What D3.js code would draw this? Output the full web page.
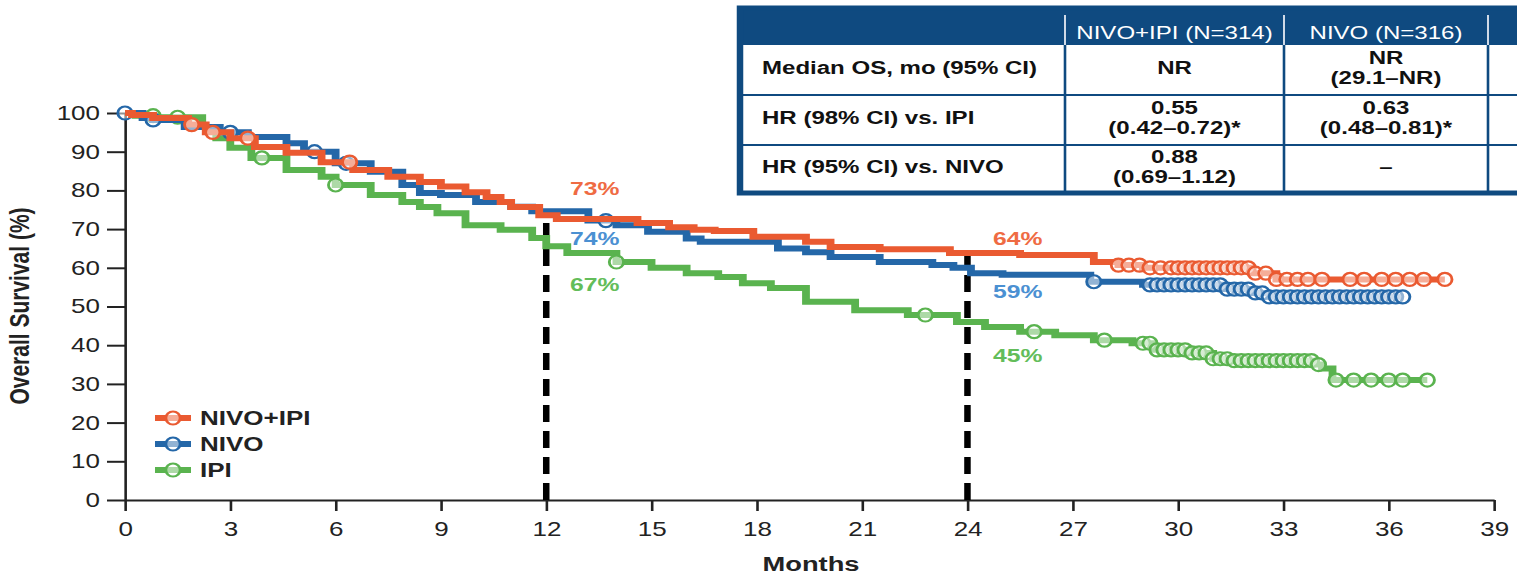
<!DOCTYPE html>
<html>
<head>
<meta charset="utf-8">
<script src="https://cdn.jsdelivr.net/npm/d3@7"></script>
<style>
  body { margin: 0; background: #fff; }
  svg { display: block; font-family: "Liberation Sans", Arial, sans-serif; }
</style>
</head>
<body>
<script>
// Kaplan-Meier steps (months, % alive)
const comboMonths = [0, 0.2, 0.8, 1.8, 2.3, 3.0, 3.7, 4.6, 5.6, 6.5, 7.5, 8.4, 9.0, 9.7, 10.3, 10.7, 11.0, 11.8, 12.3, 14.6, 15.5, 16.2, 16.8, 17.9, 19.4, 20.1, 21.5, 23.5, 25.5, 27.6, 28.3, 29.0, 32.1, 32.8];
const comboSurv = [100, 99.5, 98.7, 97, 95, 93.5, 91.2, 89.7, 87.3, 85.3, 83.5, 82.2, 81, 79.5, 78.3, 77, 75.7, 73.6, 72.6, 71.6, 70.5, 69.8, 69.5, 68, 66.7, 65.4, 64.8, 63.8, 63.3, 61.5, 60.7, 60, 58.6, 57];
const comboCensor = [1.9, 2.5, 3.5, 6.4, 28.3, 28.6, 28.9, 29.2, 29.5, 29.8, 30.0, 30.2, 30.4, 30.6, 30.8, 31.0, 31.2, 31.4, 31.6, 31.8, 32.0, 32.2, 32.5, 32.8, 33.1, 33.4, 33.7, 34.1, 34.9, 35.3, 35.8, 36.2, 36.6, 37.0, 37.6];

const nivoMonths = [0, 0.5, 0.8, 1.7, 2.7, 3.5, 4.6, 5.1, 6.0, 7.0, 7.9, 8.4, 9.0, 10.0, 11.0, 11.6, 13.2, 14.0, 14.9, 16.0, 16.4, 18.6, 19.4, 20.1, 21.5, 23.0, 23.6, 24.1, 25.0, 27.5, 29.0, 31.3, 32.1, 32.6];
const nivoSurv = [100, 98.7, 98.2, 96.4, 95, 93.8, 92.2, 90, 87, 84.8, 81.4, 79.3, 78.8, 77, 75.8, 74.6, 72.2, 71, 69.3, 67.6, 66.7, 65, 64, 62.8, 61.5, 60.7, 60, 58.6, 58.2, 56.4, 55.6, 54.5, 53.5, 52.5];
const nivoCensor = [0, 0.8, 3.0, 5.4, 6.3, 13.7, 27.6, 29.2, 29.4, 29.6, 29.8, 30.0, 30.2, 30.4, 30.6, 30.8, 31.0, 31.2, 31.4, 31.6, 31.8, 32.0, 32.2, 32.4, 32.6, 32.8, 33.0, 33.2, 33.4, 33.6, 33.8, 34.0, 34.2, 34.4, 34.6, 34.8, 35.0, 35.2, 35.4, 35.6, 35.8, 36.0, 36.2, 36.4];

const ipiMonths = [0, 0.3, 0.9, 2.2, 2.6, 3.0, 3.6, 4.6, 5.6, 6.0, 7.0, 7.9, 8.4, 8.9, 9.7, 10.7, 11.6, 12.0, 12.6, 14.0, 15.0, 16.0, 16.9, 17.6, 18.4, 19.4, 20.8, 22.3, 23.7, 24.5, 25.5, 26.5, 27.6, 28.7, 29.3, 30.3, 31.0, 31.5, 33.9, 34.1, 34.4];
const ipiSurv = [100, 99.3, 98.9, 96.4, 93.5, 91, 88.4, 85.3, 83.5, 81.4, 78.8, 77, 75.7, 74.1, 71, 69.8, 67.7, 65.6, 63.8, 61.5, 60, 58.6, 57.6, 56, 54.8, 51.2, 49, 47.8, 46, 44.7, 43.5, 42.6, 41.3, 40.5, 38.8, 38, 36.5, 36, 35, 34, 31];
const ipiCensor = [0.8, 1.5, 3.9, 6.0, 14.0, 22.8, 25.9, 27.9, 29.0, 29.2, 29.4, 29.6, 29.8, 30.0, 30.2, 30.4, 30.6, 30.8, 31.0, 31.2, 31.4, 31.6, 31.8, 32.0, 32.2, 32.4, 32.6, 32.8, 33.0, 33.2, 33.4, 33.6, 33.8, 34.0, 34.5, 35.0, 35.5, 36.0, 36.4, 37.1];

const armNames = ['NIVO+IPI', 'NIVO', 'IPI'];
const landmarkMonths = [12, 24];
const landmarkLabels = [['73%', '74%', '67%'], ['64%', '59%', '45%']];

const xTicks = d3.range(0, 40, 3);
const yTicks = d3.range(0, 101, 10);

const tableHeader = ['NIVO+IPI (N=314)', 'NIVO (N=316)'];
const tableRowLabels = ['Median OS, mo (95% CI)', 'HR (98% CI) vs. IPI', 'HR (95% CI) vs. NIVO'];
const tableNivoIpi = [['NR'], ['0.55', '(0.42\u20130.72)*'], ['0.88', '(0.69\u20131.12)']];
const tableNivo = [['NR', '(29.1\u2013NR)'], ['0.63', '(0.48\u20130.81)*'], ['\u2013']];

// the original picture is stretched sideways, so draw in a narrower box and stretch it
const S = 1.3;
const W = 1517 / S;
const rx = (px) => px / S;

const arms = [
  { name: armNames[0], months: comboMonths, surv: comboSurv, censor: comboCensor, color: '#ea5a31', label: '#ef6b43' },
  { name: armNames[1], months: nivoMonths, surv: nivoSurv, censor: nivoCensor, color: '#2467a8', label: '#4b90d2' },
  { name: armNames[2], months: ipiMonths, surv: ipiSurv, censor: ipiCensor, color: '#5ab34f', label: '#63bd5a' }
];

const svg = d3.select('body').append('svg')
  .attr('width', 1517)
  .attr('height', 576)
  .attr('viewBox', `0 0 ${W} 576`)
  .attr('preserveAspectRatio', 'none');

const x = d3.scaleLinear().domain([0, 39]).range([rx(125), rx(1494)]);
const y = d3.scaleLinear().domain([0, 100]).range([500, 113]);

//survival value at a given month (step function)
const survAt = (arm, m) => {
  let i = d3.bisectRight(arm.months, m) - 1;
  return arm.surv[Math.max(i, 0)];
};

// axes
const yAxis = svg.append('g')
  .attr('transform', `translate(${x(0)},0)`)
  .call(d3.axisLeft(y).tickValues(yTicks).tickSize(rx(18)).tickSizeOuter(0).tickPadding(rx(7)));
const xAxis = svg.append('g')
  .attr('transform', `translate(0,${y(0)})`)
  .call(d3.axisBottom(x).tickValues(xTicks).tickSize(11).tickSizeOuter(0).tickPadding(11));

[yAxis, xAxis].forEach((g) => {
  g.selectAll('path, line').attr('stroke', '#222').attr('stroke-width', 2);
  g.selectAll('text').attr('font-size', 20).attr('fill', '#222')
    .attr('font-family', '"Liberation Sans", Arial, sans-serif');
});

svg.append('text')
  .attr('transform', `translate(${rx(29)},306) rotate(-90)`)
  .attr('text-anchor', 'middle')
  .attr('font-size', 21).attr('font-weight', 'bold').attr('fill', '#222')
  .text('Overall Survival (%)');

svg.append('text')
  .attr('x', rx(811)).attr('y', 571)
  .attr('text-anchor', 'middle')
  .attr('font-size', 21).attr('font-weight', 'bold').attr('fill', '#222')
  .text('Months');

// landmark dashed lines
landmarkMonths.forEach((m) => {
  let top = d3.max(arms, (a) => survAt(a, m));
  svg.append('line')
    .attr('x1', x(m)).attr('x2', x(m))
    .attr('y1', y(0)).attr('y2', y(top) + 3)
    .attr('stroke', '#000').attr('stroke-width', 5)
    .attr('stroke-dasharray', '17 9');
});

// curves, drawn IPI first so NIVO+IPI ends on top
const line = d3.line()
  .x((d) => x(d[0]))
  .y((d) => y(d[1]))
  .curve(d3.curveStepAfter);

arms.slice().reverse().forEach((arm) => {
  let pts = arm.months.map((m, i) => [m, arm.surv[i]]);
  let end = d3.max(arm.censor);
  pts.push([end, survAt(arm, end)]);

  svg.append('path')
    .datum(pts)
    .attr('d', line)
    .attr('fill', 'none')
    .attr('stroke', arm.color)
    .attr('stroke-width', 6);

  svg.selectAll(null)
    .data(arm.censor)
    .enter()
    .append('ellipse')
    .attr('cx', (d) => x(d))
    .attr('cy', (d) => y(survAt(arm, d)))
    .attr('rx', 5.5)
    .attr('ry', 6.5)
    .attr('fill', '#fff')
    .attr('fill-opacity', 0.5)
    .attr('stroke', arm.color)
    .attr('stroke-width', 2.2);
});

// landmark percentages
const labelPos = [[[570, 195], [570, 245], [570, 291]], [[993, 245], [993, 298], [993, 362]]];
landmarkLabels.forEach((labels, li) => {
  labels.forEach((t, ai) => {
    svg.append('text')
      .attr('x', rx(labelPos[li][ai][0]))
      .attr('y', labelPos[li][ai][1])
      .attr('font-size', 19).attr('font-weight', 'bold')
      .attr('fill', arms[ai].label)
      .text(t);
  });
});

// legend
const legend = svg.append('g');
arms.forEach((arm, i) => {
  let ly = 418 + i * 26;
  legend.append('line')
    .attr('x1', rx(155)).attr('x2', rx(191))
    .attr('y1', ly).attr('y2', ly)
    .attr('stroke', arm.color).attr('stroke-width', 6);
  legend.append('ellipse')
    .attr('cx', rx(173)).attr('cy', ly)
    .attr('rx', 5.5).attr('ry', 6.5)
    .attr('fill', '#fff').attr('fill-opacity', 0.5)
    .attr('stroke', arm.color).attr('stroke-width', 2.2);
  legend.append('text')
    .attr('x', rx(200)).attr('y', ly + 7)
    .attr('font-size', 20).attr('font-weight', 'bold').attr('fill', '#222')
    .text(arm.name);
});

// results table, top right (runs off the page edge like the original)
const navy = '#0f4a80';
const tLeft = rx(740), tRight = W + 20;
const colEdges = [740, 1065, 1284, 1488].map(rx);
const rowEdges = [8, 45, 95, 145, 193];
const table = svg.append('g');

table.append('rect')
  .attr('x', tLeft).attr('y', rowEdges[0])
  .attr('width', tRight - tLeft).attr('height', rowEdges[4] - rowEdges[0])
  .attr('fill', '#fff');
table.append('rect')
  .attr('x', tLeft).attr('y', rowEdges[0])
  .attr('width', tRight - tLeft).attr('height', rowEdges[1] - rowEdges[0])
  .attr('fill', navy);

[rowEdges[2], rowEdges[3]].forEach((ry) => {
  table.append('line')
    .attr('x1', tLeft).attr('x2', tRight).attr('y1', ry).attr('y2', ry)
    .attr('stroke', navy).attr('stroke-width', 2);
});
colEdges.slice(1).forEach((cx) => {
  table.append('line')
    .attr('x1', cx).attr('x2', cx).attr('y1', 15).attr('y2', rowEdges[1])
    .attr('stroke', '#d5deea').attr('stroke-width', 1.5);
  table.append('line')
    .attr('x1', cx).attr('x2', cx).attr('y1', rowEdges[1]).attr('y2', rowEdges[4])
    .attr('stroke', navy).attr('stroke-width', 2);
});
table.append('rect')
  .attr('x', tLeft).attr('y', rowEdges[0])
  .attr('width', tRight - tLeft).attr('height', rowEdges[4] - rowEdges[0])
  .attr('fill', 'none').attr('stroke', navy).attr('stroke-width', 5);

tableHeader.forEach((t, i) => {
  table.append('text')
    .attr('x', (colEdges[i + 1] + colEdges[i + 2]) / 2)
    .attr('y', 39)
    .attr('text-anchor', 'middle')
    .attr('font-size', 18.5).attr('fill', '#fff')
    .text(t);
});

tableRowLabels.forEach((t, r) => {
  let mid = (rowEdges[r + 1] + rowEdges[r + 2]) / 2 - 2;
  table.append('text')
    .attr('x', rx(762)).attr('y', mid + 6.5)
    .attr('font-size', 18.5).attr('font-weight', 'bold').attr('fill', '#111')
    .text(t);
  [tableNivoIpi[r], tableNivo[r]].forEach((lines, c) => {
    let cx = (colEdges[c + 1] + colEdges[c + 2]) / 2;
    let first = mid + 6.5 - (lines.length - 1) * 10;
    lines.forEach((ln, k) => {
      table.append('text')
        .attr('x', cx).attr('y', first + k * 20)
        .attr('text-anchor', 'middle')
        .attr('font-size', 18.5).attr('font-weight', 'bold').attr('fill', '#111')
        .text(ln);
    });
  });
});
</script>
</body>
</html>
